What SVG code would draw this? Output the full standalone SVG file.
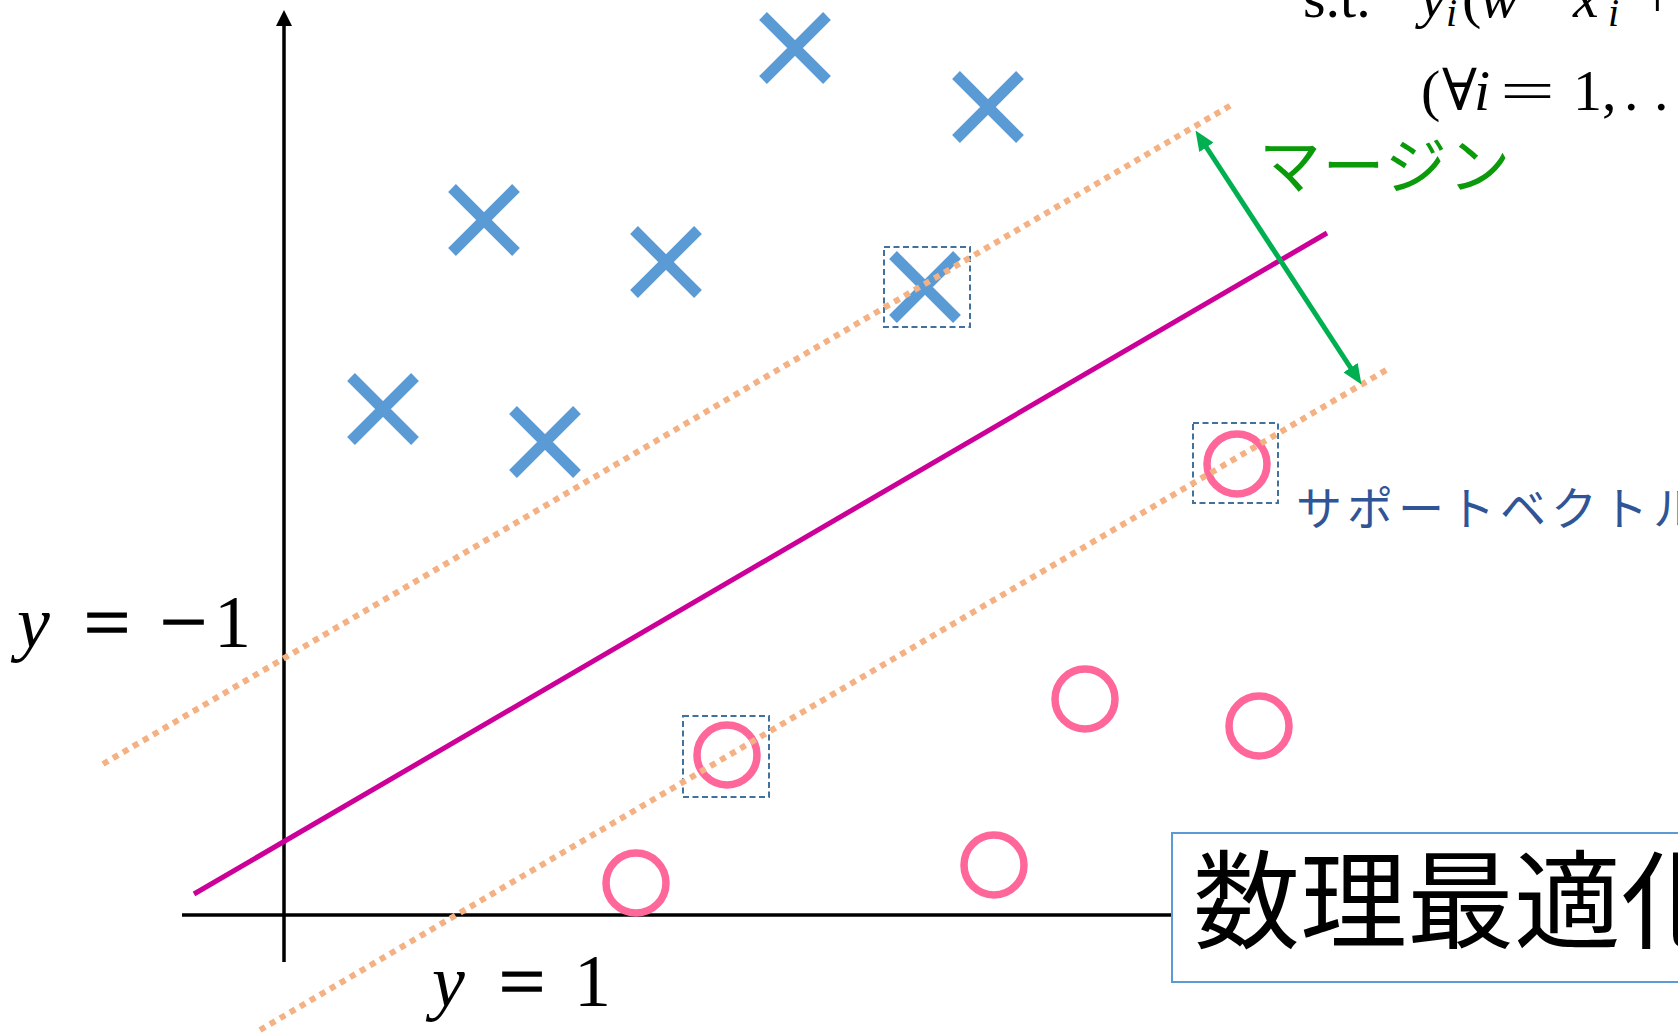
<svg xmlns="http://www.w3.org/2000/svg" width="1678" height="1033" viewBox="0 0 1678 1033">
<style>
.cross{stroke:#5b9bd5;stroke-width:11;fill:none}
.circ{stroke:#ff6699;stroke-width:7.5;fill:none}
.sv{stroke:#41719c;stroke-width:2;stroke-dasharray:6 3.5;fill:none}
.dot{stroke:#f4b183;stroke-width:6;stroke-dasharray:6 5.6;fill:none}
.ax{stroke:#000;stroke-width:3.5;fill:none}
.math{font-family:"Liberation Serif","DejaVu Serif",serif;fill:#000}
.it{font-style:italic}
.op{stroke:#000;stroke-width:1.6}
.jp{font-family:"Noto Sans CJK JP",sans-serif}
</style>
<defs>
<marker id="ga" viewBox="0 0 20 17" refX="7" refY="8.5" markerWidth="20" markerHeight="17" markerUnits="userSpaceOnUse" orient="auto-start-reverse">
<path d="M0,0 L20,8.5 L0,17 Z" fill="#00b050"/>
</marker>
</defs>
<rect width="1678" height="1033" fill="#fff"/>
<g id="axes">
<line class="ax" x1="284" y1="962" x2="284" y2="24"/>
<polygon points="276,26 284,10 292,26" fill="#000"/>
<line class="ax" x1="182" y1="915" x2="1180" y2="915"/>
</g>
<g id="hyperplane">
<line x1="194" y1="894" x2="1327" y2="233" stroke="#cc0099" stroke-width="5"/>
</g>
<g id="negatives">
<path class="cross" d="M763,16 L827,80 M763,80 L827,16"/>
<path class="cross" d="M956,75 L1020,139 M956,139 L1020,75"/>
<path class="cross" d="M452,188 L516,252 M452,252 L516,188"/>
<path class="cross" d="M634,230 L698,294 M634,294 L698,230"/>
<path class="cross" d="M893,255 L957,319 M893,319 L957,255"/>
<path class="cross" d="M351,377 L415,441 M351,441 L415,377"/>
<path class="cross" d="M513,410 L577,474 M513,474 L577,410"/>
</g>
<g id="positives">
<circle class="circ" cx="727" cy="755" r="30"/>
<circle class="circ" cx="1237" cy="464" r="30"/>
<circle class="circ" cx="1085" cy="699" r="30"/>
<circle class="circ" cx="1259" cy="726" r="30"/>
<circle class="circ" cx="636" cy="883" r="30"/>
<circle class="circ" cx="994" cy="865" r="30"/>
</g>
<g id="support-boxes">
<rect class="sv" x="884" y="247" width="86" height="80"/>
<rect class="sv" x="683" y="716" width="86" height="81"/>
<rect class="sv" x="1193" y="423" width="85" height="80"/>
</g>
<g id="margins">
<line class="dot" x1="103" y1="764" x2="1233" y2="104"/>
<line class="dot" x1="260" y1="1030" x2="1388" y2="369"/>
</g>
<g id="connectors">
<line x1="1202.6" y1="141.5" x2="1354.4" y2="373.5" stroke="#00b050" stroke-width="5" marker-start="url(#ga)" marker-end="url(#ga)"/>
</g>
<g id="label-margin">
<text class="jp" x="1259" y="189" font-size="62" letter-spacing="1.5" fill="#0a9a0a">マージン</text>
</g>
<g id="label-sv">
<text class="jp" x="1296" y="525" font-size="46" letter-spacing="5" fill="#2f5597">サポートベクトル</text>
</g>
<g id="label-ym1" class="math" font-size="74">
<text x="17" y="647" class="it">y</text>
<text x="84" y="647" class="op" textLength="46" lengthAdjust="spacingAndGlyphs">=</text>
<text x="160" y="647" class="op" textLength="47" lengthAdjust="spacingAndGlyphs">−</text>
<text x="214" y="647">1</text>
</g>
<g id="label-y1" class="math" font-size="74">
<text x="432" y="1006" class="it">y</text>
<text x="499" y="1006" class="op" textLength="46" lengthAdjust="spacingAndGlyphs">=</text>
<text x="574" y="1006">1</text>
</g>
<g id="constraint" class="math" font-size="58">
<text x="1303" y="17">s.t.</text>
<text x="1420" y="17" class="it">y</text>
<text x="1446" y="26" class="it" font-size="40">i</text>
<text x="1462" y="17">(</text>
<text x="1480" y="17" class="it">w</text>
<text x="1573" y="17" class="it">x</text>
<text x="1608" y="26" class="it" font-size="40">i</text>
<text x="1641" y="17">+</text>
<text x="1421" y="110">(</text>
<text x="1442" y="110">∀</text>
<text x="1474" y="110" class="it">i</text>
<text x="1500" y="110" textLength="55" lengthAdjust="spacingAndGlyphs">=</text>
<text x="1573" y="110">1,</text>
<text x="1624" y="110">.</text>
<text x="1654" y="110">.</text>
</g>
<g id="title-box">
<rect x="1172" y="833" width="520" height="149" fill="#fff" stroke="#5b9bd5" stroke-width="2"/>
<text class="jp" x="1193" y="940" font-size="107" fill="#000">数理最適化</text>
</g>
</svg>
